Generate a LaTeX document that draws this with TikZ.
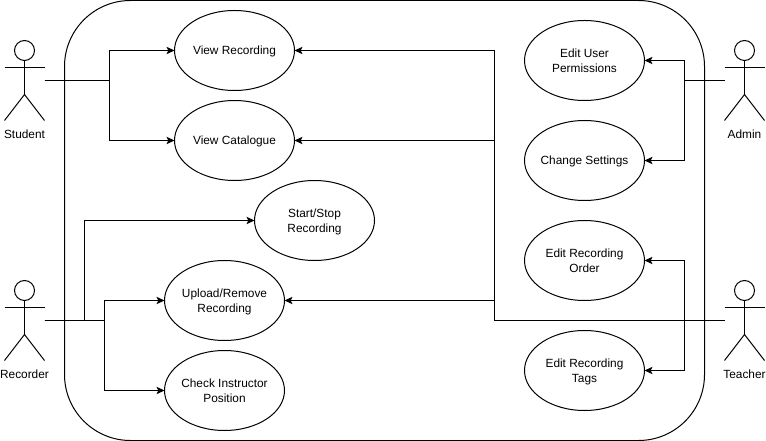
\documentclass[tikz,border=0pt]{standalone}
\usepackage{fontspec}
\setmainfont{Liberation Sans}
\usetikzlibrary{shapes.geometric,arrows.meta}

% actor: name, x of the head, y of the head, x of the free end, label
\newcommand{\actorman}[5]{
	\node[actorhead] (#1head) at (#2,#3) {};
	\coordinate (#1arml) at (#2-20,#3+17);
	\coordinate (#1armr) at (#2+20,#3+17);
	\coordinate (#1hip) at (#2,#3+44);
	\coordinate (#1legl) at (#2-20,#3+70);
	\coordinate (#1legr) at (#2+20,#3+70);
	\coordinate (#1port) at (#4,#3+30);
	\node[actorname] (#1) at (#2,#3+84) {#5};
	\draw[line] (#1head) -- (#1hip);
	\draw[line] (#1arml) -- (#1armr);
	\draw[line] (#1legl) -- (#1hip) -- (#1legr);
}

\begin{document}
\begin{tikzpicture}[x=0.75pt,y=-0.75pt]
				\tikzstyle{line}=[draw=black,line width=0.75pt]
				\tikzstyle{link}=[line,-{Stealth[length=6pt,width=5.5pt,inset=1.4pt]}]
				\tikzstyle{usecase}=[line,ellipse,minimum width=90pt,minimum height=60pt,inner ysep=0pt,inner xsep=-3pt,outer sep=0pt,align=center,text depth=0pt,font=\fontsize{8.9}{11.25}\selectfont]
				\tikzstyle{actorhead}=[line,circle,minimum size=15pt,inner sep=0pt]
				\tikzstyle{actorname}=[inner sep=0pt,font=\fontsize{8.9}{11.25}\selectfont]
				\useasboundingbox (0,0) rectangle (766,441);
				\node[line,rectangle,rounded corners=49.5pt,minimum width=480pt,minimum height=330pt,inner sep=0pt] (system) at (384.5,220.5) {};
				% use cases
				\node[usecase] (viewrec) at (234.5,50.5) {View Recording};
				\node[usecase] (viewcat) at (234.5,140.5) {View Catalogue};
				\node[usecase] (startstop) at (314.5,220.5) {Start/Stop\\Recording};
				\node[usecase] (upload) at (224.5,300.5) {Upload/Remove\\Recording};
				\node[usecase] (check) at (224.5,390.5) {Check Instructor\\Position};
				\node[usecase] (permissions) at (584.5,60.5) {Edit User\\Permissions};
				\node[usecase] (settings) at (584.5,160.5) {Change Settings};
				\node[usecase] (order) at (584.5,260.5) {Edit Recording\\Order};
				\node[usecase] (tags) at (584.5,370.5) {Edit Recording\\Tags};
				% actors
				\actorman{student}{24.5}{50.5}{44.5}{Student}
				\actorman{recorder}{24.5}{290.5}{44.5}{Recorder}
				\actorman{admin}{744.5}{50.5}{724.5}{Admin}
				\actorman{teacher}{744.5}{290.5}{724.5}{Teacher}
				% connectors
				\draw[link] (studentport) -- (109.5,80.5) |- (viewrec.west);
				\draw[link] (studentport) -- (109.5,80.5) |- (viewcat.west);
				\draw[link] (recorderport) -- (84.5,320.5) |- (startstop.west);
				\draw[link] (recorderport) -- (104.5,320.5) |- (upload.west);
				\draw[link] (recorderport) -- (104.5,320.5) |- (check.west);
				\draw[link] (adminport) -- (684.5,80.5) |- (permissions.east);
				\draw[link] (adminport) -- (684.5,80.5) |- (settings.east);
				\draw[link] (teacherport) -- (684.5,320.5) |- (order.east);
				\draw[link] (teacherport) -- (684.5,320.5) |- (tags.east);
				\draw[link] (teacherport) -- (494.5,320.5) |- (upload.east);
				\draw[link] (teacherport) -- (494.5,320.5) |- (viewcat.east);
				\draw[link] (teacherport) -- (494.5,320.5) |- (viewrec.east);
\end{tikzpicture}
\end{document}
